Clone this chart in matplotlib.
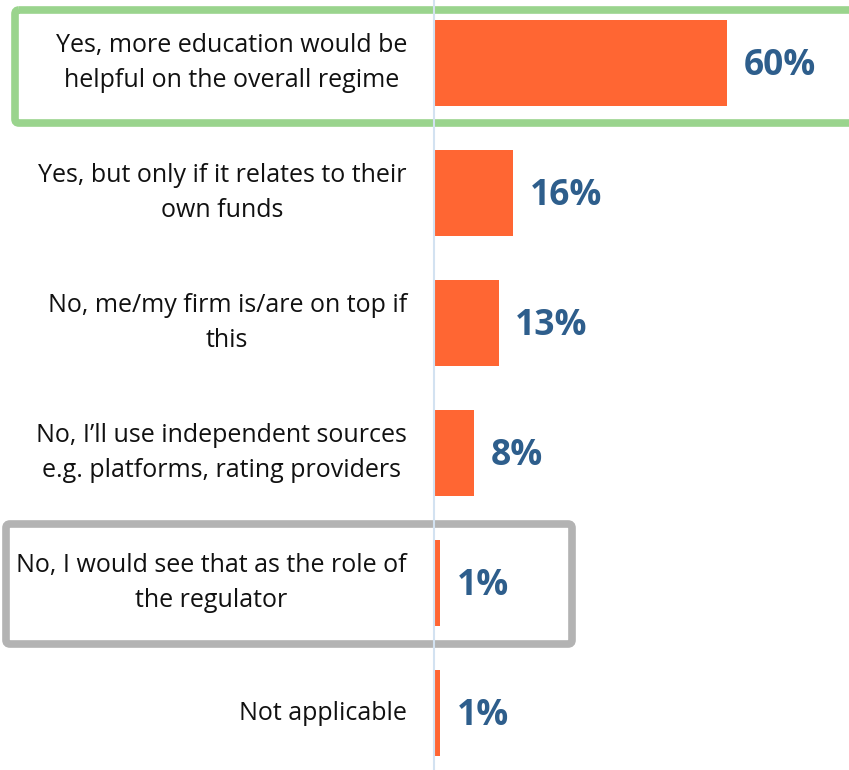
import matplotlib
matplotlib.use("Agg")
import matplotlib.pyplot as plt
from matplotlib.patches import FancyBboxPatch

categories = [
    "Yes, more education would be\nhelpful on the overall regime",
    "Yes, but only if it relates to their\nown funds",
    "No, me/my firm is/are on top if\nthis",
    "No, I\u2019ll use independent sources\ne.g. platforms, rating providers",
    "No, I would see that as the role of\nthe regulator",
    "Not applicable",
]
values = [60, 16, 13, 8, 1, 1]
value_labels = ["60%", "16%", "13%", "8%", "1%", "1%"]

BAR_COLOR = "#FF6633"
LABEL_COLOR = "#2E5E8C"
AXIS_COLOR = "#D3E2F1"

W, H = 849, 770
fig = plt.figure(figsize=(W / 100, H / 100), dpi=100)
fig.patch.set_facecolor("white")

# Overlay in pixel space for the highlight frames
ov = fig.add_axes([0, 0, 1, 1])
ov.set_xlim(0, W)
ov.set_ylim(H, 0)
ov.axis("off")
ov.add_patch(FancyBboxPatch((15, 10), 850, 113,
                            boxstyle="round,pad=0,rounding_size=4",
                            fill=False, edgecolor="#9AD48D", linewidth=5.5,
                            clip_on=False))
ov.add_patch(FancyBboxPatch((6, 524), 566, 120,
                            boxstyle="round,pad=0,rounding_size=4",
                            fill=False, edgecolor="#B3B3B3", linewidth=5.5,
                            clip_on=False))

x0 = 434
ax = fig.add_axes([x0 / W, 0, (W - x0) / W, 1])
ax.patch.set_alpha(0)
step = 130.0
ax.set_xlim(0, (W - x0) / 4.87)
ax.set_ylim((H - 63) / step, -63 / step)

y = list(range(len(values)))
ax.barh(y, values, height=86 / step, color=BAR_COLOR, left=0.25, zorder=2)

for yi, v, lab in zip(y, values, value_labels):
    ax.annotate(lab, xy=(v + 0.25, yi), xytext=(12, -2), textcoords="offset points",
                ha="left", va="center", fontsize=25.5, fontweight="bold",
                color=LABEL_COLOR, family="Open Sans")

ax.set_yticks(y)
ax.set_yticklabels(categories, fontsize=18, family="Open Sans", color="#111111",
                   multialignment="center", linespacing=1.55, va="center")
ax.tick_params(axis="y", length=0, pad=19.5)
ax.set_xticks([])
for s in ["top", "right", "bottom"]:
    ax.spines[s].set_visible(False)
ax.spines["left"].set_color(AXIS_COLOR)
ax.spines["left"].set_linewidth(1.5)

fig.savefig("out.png", dpi=100, facecolor="white")
